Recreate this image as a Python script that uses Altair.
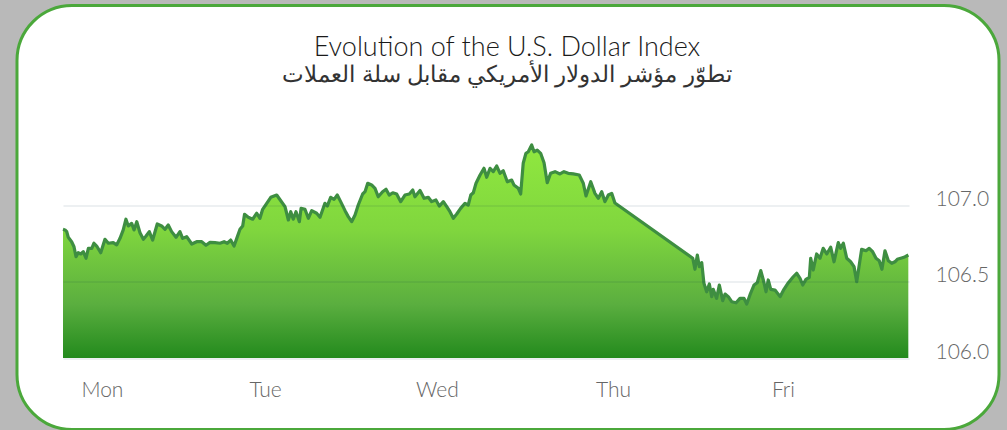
import altair as alt
import pandas as pd

# ---- data (trading-day units: 0 = start of Monday session, 5 = end of Friday) ----
day = [0.000, 0.012, 0.022, 0.031, 0.051, 0.065, 0.077, 0.090, 0.105, 0.120,
       0.136, 0.150, 0.170, 0.183, 0.199, 0.223, 0.248, 0.268, 0.297, 0.317,
       0.337, 0.356, 0.372, 0.386, 0.406, 0.420, 0.436, 0.455, 0.475, 0.491,
       0.510, 0.530, 0.557, 0.583, 0.603, 0.622, 0.642, 0.668, 0.691, 0.707,
       0.731, 0.761, 0.790, 0.820, 0.845, 0.869, 0.898, 0.928, 0.952, 0.971,
       0.991, 1.011, 1.027, 1.046, 1.062, 1.073, 1.095, 1.121, 1.145, 1.164,
       1.180, 1.204, 1.228, 1.263, 1.287, 1.312, 1.332, 1.346, 1.361, 1.377,
       1.397, 1.407, 1.430, 1.450, 1.470, 1.499, 1.519, 1.548, 1.562, 1.582,
       1.602, 1.621, 1.641, 1.667, 1.686, 1.706, 1.726, 1.745, 1.771, 1.785,
       1.801, 1.824, 1.844, 1.863, 1.889, 1.909, 1.928, 1.949, 1.972, 1.996,
       2.021, 2.047, 2.067, 2.080, 2.110, 2.134, 2.159, 2.179, 2.204, 2.224,
       2.248, 2.268, 2.287, 2.307, 2.327, 2.350, 2.376, 2.395, 2.410, 2.425,
       2.441, 2.465, 2.488, 2.504, 2.524, 2.543, 2.563, 2.583, 2.602, 2.626,
       2.652, 2.665, 2.691, 2.705, 2.720, 2.736, 2.750, 2.770, 2.784, 2.803,
       2.823, 2.843, 2.862, 2.882, 2.908, 2.937, 2.961, 2.986, 3.016, 3.051,
       3.075, 3.091, 3.119, 3.144, 3.164, 3.184, 3.203, 3.223, 3.243, 3.262,
       3.722, 3.735, 3.749, 3.761, 3.775, 3.788, 3.804, 3.820, 3.834, 3.843,
       3.863, 3.879, 3.899, 3.913, 3.932, 3.952, 3.978, 4.001, 4.025, 4.041,
       4.060, 4.084, 4.103, 4.124, 4.139, 4.155, 4.168, 4.183, 4.208, 4.238,
       4.261, 4.287, 4.316, 4.336, 4.356, 4.372, 4.391, 4.411, 4.419, 4.434,
       4.454, 4.474, 4.493, 4.514, 4.537, 4.557, 4.582, 4.596, 4.612, 4.632,
       4.655, 4.675, 4.691, 4.720, 4.746, 4.765, 4.785, 4.805, 4.824, 4.840,
       4.858, 4.878, 4.898, 4.917, 4.931, 4.951, 4.970, 4.996]

index = [106.841, 106.837, 106.826, 106.789, 106.760, 106.727, 106.662, 106.688, 106.680, 106.695,
         106.652, 106.717, 106.717, 106.750, 106.732, 106.688, 106.776, 106.750, 106.754, 106.739,
         106.782, 106.837, 106.907, 106.863, 106.880, 106.837, 106.891, 106.819, 106.776, 106.797,
         106.826, 106.771, 106.876, 106.863, 106.841, 106.869, 106.826, 106.789, 106.826, 106.782,
         106.793, 106.745, 106.760, 106.760, 106.737, 106.756, 106.754, 106.750, 106.760, 106.750,
         106.771, 106.732, 106.782, 106.841, 106.863, 106.939, 106.920, 106.907, 106.946, 106.913,
         106.972, 107.011, 107.050, 107.065, 107.028, 106.989, 106.902, 106.956, 106.907, 106.956,
         106.891, 106.978, 106.972, 106.913, 106.963, 106.946, 106.920, 107.011, 106.993, 107.050,
         107.037, 107.065, 107.022, 106.963, 106.924, 106.891, 106.935, 107.000, 107.072, 107.087,
         107.142, 107.131, 107.109, 107.054, 107.087, 107.103, 107.065, 107.080, 107.072, 107.022,
         107.065, 107.072, 107.098, 107.054, 107.095, 107.044, 107.050, 107.022, 107.033, 106.993,
         107.022, 106.989, 106.956, 106.913, 106.941, 106.978, 107.011, 107.000, 107.065, 107.080,
         107.142, 107.196, 107.240, 107.181, 107.240, 107.218, 107.255, 107.207, 107.224, 107.152,
         107.163, 107.131, 107.109, 107.072, 107.273, 107.338, 107.348, 107.392, 107.348, 107.359,
         107.338, 107.276, 107.146, 107.207, 107.218, 107.203, 107.218, 107.207, 107.203, 107.196,
         107.142, 107.059, 107.152, 107.076, 107.044, 107.087, 107.022, 107.065, 107.076, 107.013,
         106.652, 106.580, 106.673, 106.597, 106.623, 106.488, 106.433, 106.484, 106.401, 106.449,
         106.390, 106.477, 106.375, 106.418, 106.401, 106.368, 106.361, 106.390, 106.390, 106.353,
         106.412, 106.477, 106.492, 106.571, 106.510, 106.433, 106.510, 106.449, 106.444, 106.401,
         106.449, 106.492, 106.531, 106.554, 106.521, 106.477, 106.514, 106.527, 106.652, 106.575,
         106.680, 106.652, 106.717, 106.680, 106.724, 106.629, 106.754, 106.717, 106.750, 106.652,
         106.629, 106.597, 106.499, 106.710, 106.701, 106.717, 106.695, 106.652, 106.636, 106.580,
         106.701, 106.636, 106.619, 106.629, 106.645, 106.652, 106.658, 106.673]

day_names = ["Mon", "Tue", "Wed", "Thu", "Fri"]
day_label_pos = [0.230, 1.194, 2.210, 3.251, 4.255]
y_ticks = [106.0, 106.5, 107.0]

title_en = "Evolution of the U.S. Dollar Index"
title_ar = "تطوّر مؤشر الدولار الأمريكي مقابل سلة العملات"

df = pd.DataFrame({"day": day, "index": index})

label_expr = " : ".join(
    f"datum.value < {p + 0.5:.3f} ? '{n}'" for p, n in zip(day_label_pos[:-1], day_names[:-1])
) + f" : '{day_names[-1]}'"

FONT = "Lato"

x_enc = alt.X(
    "day:Q",
    scale=alt.Scale(domain=[0, 5], nice=False, zero=False),
    axis=alt.Axis(
        values=day_label_pos, labelExpr=label_expr, title=None, grid=False,
        ticks=False, domain=False, labelPadding=38, labelBaseline="alphabetic",
        labelFontSize=21, labelColor="#666666", labelFont=FONT, labelFlush=False,
        labelFontWeight=300, zindex=1,
    ),
)
y_enc = alt.Y(
    "index:Q",
    scale=alt.Scale(domain=[106.0, 107.5], nice=False, zero=False),
    axis=alt.Axis(
        orient="right", values=y_ticks, format=".1f", title=None, ticks=False,
        domain=False, grid=True, gridColor="#002850", gridOpacity=0.14,
        gridWidth=1, labelPadding=26, labelAlign="left", labelBaseline="alphabetic",
        labelFontSize=21, labelColor="#666666", labelFont=FONT, labelFontWeight=300,
        zindex=1,
    ),
)

card = alt.Chart(pd.DataFrame({"k": [0]})).mark_rect(
    fill="white", stroke="#4ba83b", strokeWidth=3, cornerRadius=55
).encode(
    x=alt.value(-46), x2=alt.value(936), y=alt.value(-123), y2=alt.value(301)
)

gradient = alt.Gradient(
    gradient="linear",
    stops=[
        alt.GradientStop(color="#90e83f", offset=0),
        alt.GradientStop(color="#80d63e", offset=0.4),
        alt.GradientStop(color="#5aae3f", offset=0.75),
        alt.GradientStop(color="#238a1d", offset=1),
    ],
    x1=0, x2=0, y1=0, y2=1,
)

area = alt.Chart(df).mark_area(color=gradient, interpolate="linear").encode(
    x=x_enc, y=y_enc, y2=alt.datum(106.0)
)
line = alt.Chart(df).mark_line(color="#3e8e41", strokeWidth=3.2, strokeJoin="round").encode(
    x="day:Q", y="index:Q"
)

t1 = alt.Chart(pd.DataFrame({"t": [title_en]})).mark_text(
    font=FONT, fontSize=27, fontWeight=300, color="#1a1a1a", align="center",
    baseline="alphabetic"
).encode(text="t:N", x=alt.value(444), y=alt.value(-73))
t2 = alt.Chart(pd.DataFrame({"t": [title_ar]})).mark_text(
    font=FONT, fontSize=23, fontWeight=300, color="#333333", align="center",
    baseline="alphabetic"
).encode(text="t:N", x=alt.value(444), y=alt.value(-47))

chart = alt.layer(card, area, line, t1, t2).properties(
    width=846, height=229.5,
    padding={"left": 63, "top": 128.5, "right": 98, "bottom": 72},
    autosize=alt.AutoSizeParams(type="none"),
    background="#b9b9b9",
).configure_view(stroke=None)

chart.save("out.html", embed_options={"renderer": "svg", "actions": False})
